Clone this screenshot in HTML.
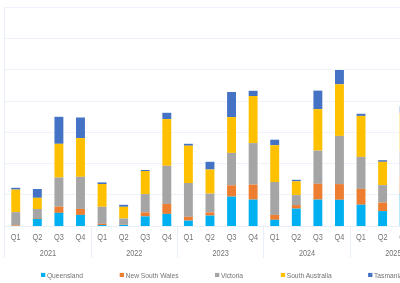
<!DOCTYPE html><html><head><meta charset="utf-8"><style>html,body{margin:0;padding:0;background:#fff;width:400px;height:283px;overflow:hidden}svg{display:block}text{font-family:"Liberation Sans",sans-serif;fill:#747474}svg{will-change:transform}</style></head><body>
<svg width="400" height="283" viewBox="0 0 400 283">
<line x1="4" y1="7.5" x2="400" y2="7.5" stroke="#EEF2FA" stroke-width="1"/>
<line x1="4" y1="38.5" x2="400" y2="38.5" stroke="#EEF2FA" stroke-width="1"/>
<line x1="4" y1="69.5" x2="400" y2="69.5" stroke="#EEF2FA" stroke-width="1"/>
<line x1="4" y1="101.5" x2="400" y2="101.5" stroke="#EEF2FA" stroke-width="1"/>
<line x1="4" y1="132.5" x2="400" y2="132.5" stroke="#EEF2FA" stroke-width="1"/>
<line x1="4" y1="163.5" x2="400" y2="163.5" stroke="#EEF2FA" stroke-width="1"/>
<line x1="4" y1="194.5" x2="400" y2="194.5" stroke="#EEF2FA" stroke-width="1"/>
<line x1="4" y1="226.5" x2="400" y2="226.5" stroke="#E9EFF9" stroke-width="1"/>
<line x1="4.5" y1="7" x2="4.5" y2="258" stroke="#E9EFF9" stroke-width="1"/>
<line x1="91.5" y1="226" x2="91.5" y2="258" stroke="#E9EFF9" stroke-width="1"/>
<line x1="177.5" y1="226" x2="177.5" y2="258" stroke="#E9EFF9" stroke-width="1"/>
<line x1="263.5" y1="226" x2="263.5" y2="258" stroke="#E9EFF9" stroke-width="1"/>
<line x1="350.5" y1="226" x2="350.5" y2="258" stroke="#E9EFF9" stroke-width="1"/>
<g>
<rect x="11.30" y="187.80" width="8.9" height="1.80" fill="#4472C4"/>
<rect x="11.30" y="189.60" width="8.9" height="22.50" fill="#FFC000"/>
<rect x="11.30" y="212.10" width="8.9" height="13.30" fill="#A5A5A5"/>
<rect x="11.30" y="225.40" width="8.9" height="0.60" fill="#ED7D31"/>
</g>
<g>
<rect x="32.88" y="189.00" width="8.9" height="8.80" fill="#4472C4"/>
<rect x="32.88" y="197.80" width="8.9" height="11.20" fill="#FFC000"/>
<rect x="32.88" y="209.00" width="8.9" height="9.00" fill="#A5A5A5"/>
<rect x="32.88" y="218.00" width="8.9" height="0.80" fill="#ED7D31"/>
<rect x="32.88" y="218.80" width="8.9" height="7.20" fill="#00B0F0"/>
</g>
<g>
<rect x="54.46" y="116.80" width="8.9" height="27.00" fill="#4472C4"/>
<rect x="54.46" y="143.80" width="8.9" height="33.70" fill="#FFC000"/>
<rect x="54.46" y="177.50" width="8.9" height="29.10" fill="#A5A5A5"/>
<rect x="54.46" y="206.60" width="8.9" height="6.30" fill="#ED7D31"/>
<rect x="54.46" y="212.90" width="8.9" height="13.10" fill="#00B0F0"/>
</g>
<g>
<rect x="76.04" y="117.50" width="8.9" height="20.60" fill="#4472C4"/>
<rect x="76.04" y="138.10" width="8.9" height="38.70" fill="#FFC000"/>
<rect x="76.04" y="176.80" width="8.9" height="32.10" fill="#A5A5A5"/>
<rect x="76.04" y="208.90" width="8.9" height="6.00" fill="#ED7D31"/>
<rect x="76.04" y="214.90" width="8.9" height="11.10" fill="#00B0F0"/>
</g>
<g>
<rect x="97.62" y="182.40" width="8.9" height="1.60" fill="#4472C4"/>
<rect x="97.62" y="184.00" width="8.9" height="22.80" fill="#FFC000"/>
<rect x="97.62" y="206.80" width="8.9" height="17.00" fill="#A5A5A5"/>
<rect x="97.62" y="223.80" width="8.9" height="1.20" fill="#ED7D31"/>
<rect x="97.62" y="225.00" width="8.9" height="1.00" fill="#00B0F0"/>
</g>
<g>
<rect x="119.20" y="204.80" width="8.9" height="2.00" fill="#4472C4"/>
<rect x="119.20" y="206.80" width="8.9" height="11.70" fill="#FFC000"/>
<rect x="119.20" y="218.50" width="8.9" height="5.80" fill="#A5A5A5"/>
<rect x="119.20" y="224.30" width="8.9" height="0.50" fill="#ED7D31"/>
<rect x="119.20" y="224.80" width="8.9" height="1.20" fill="#00B0F0"/>
</g>
<g>
<rect x="140.78" y="170.00" width="8.9" height="1.00" fill="#4472C4"/>
<rect x="140.78" y="171.00" width="8.9" height="23.10" fill="#FFC000"/>
<rect x="140.78" y="194.10" width="8.9" height="18.30" fill="#A5A5A5"/>
<rect x="140.78" y="212.40" width="8.9" height="4.00" fill="#ED7D31"/>
<rect x="140.78" y="216.40" width="8.9" height="9.60" fill="#00B0F0"/>
</g>
<g>
<rect x="162.36" y="112.80" width="8.9" height="6.30" fill="#4472C4"/>
<rect x="162.36" y="119.10" width="8.9" height="46.70" fill="#FFC000"/>
<rect x="162.36" y="165.80" width="8.9" height="38.10" fill="#A5A5A5"/>
<rect x="162.36" y="203.90" width="8.9" height="10.00" fill="#ED7D31"/>
<rect x="162.36" y="213.90" width="8.9" height="12.10" fill="#00B0F0"/>
</g>
<g>
<rect x="183.94" y="143.80" width="8.9" height="1.90" fill="#4472C4"/>
<rect x="183.94" y="145.70" width="8.9" height="37.30" fill="#FFC000"/>
<rect x="183.94" y="183.00" width="8.9" height="33.80" fill="#A5A5A5"/>
<rect x="183.94" y="216.80" width="8.9" height="3.80" fill="#ED7D31"/>
<rect x="183.94" y="220.60" width="8.9" height="5.40" fill="#00B0F0"/>
</g>
<g>
<rect x="205.52" y="161.80" width="8.9" height="7.70" fill="#4472C4"/>
<rect x="205.52" y="169.50" width="8.9" height="24.10" fill="#FFC000"/>
<rect x="205.52" y="193.60" width="8.9" height="18.80" fill="#A5A5A5"/>
<rect x="205.52" y="212.40" width="8.9" height="3.20" fill="#ED7D31"/>
<rect x="205.52" y="215.60" width="8.9" height="10.40" fill="#00B0F0"/>
</g>
<g>
<rect x="227.10" y="92.00" width="8.9" height="25.10" fill="#4472C4"/>
<rect x="227.10" y="117.10" width="8.9" height="35.80" fill="#FFC000"/>
<rect x="227.10" y="152.90" width="8.9" height="32.40" fill="#A5A5A5"/>
<rect x="227.10" y="185.30" width="8.9" height="11.30" fill="#ED7D31"/>
<rect x="227.10" y="196.60" width="8.9" height="29.40" fill="#00B0F0"/>
</g>
<g>
<rect x="248.68" y="90.80" width="8.9" height="5.20" fill="#4472C4"/>
<rect x="248.68" y="96.00" width="8.9" height="47.10" fill="#FFC000"/>
<rect x="248.68" y="143.10" width="8.9" height="41.50" fill="#A5A5A5"/>
<rect x="248.68" y="184.60" width="8.9" height="15.00" fill="#ED7D31"/>
<rect x="248.68" y="199.60" width="8.9" height="26.40" fill="#00B0F0"/>
</g>
<g>
<rect x="270.26" y="139.70" width="8.9" height="5.50" fill="#4472C4"/>
<rect x="270.26" y="145.20" width="8.9" height="36.80" fill="#FFC000"/>
<rect x="270.26" y="182.00" width="8.9" height="32.90" fill="#A5A5A5"/>
<rect x="270.26" y="214.90" width="8.9" height="4.90" fill="#ED7D31"/>
<rect x="270.26" y="219.80" width="8.9" height="6.20" fill="#00B0F0"/>
</g>
<g>
<rect x="291.84" y="179.80" width="8.9" height="1.50" fill="#4472C4"/>
<rect x="291.84" y="181.30" width="8.9" height="13.80" fill="#FFC000"/>
<rect x="291.84" y="195.10" width="8.9" height="10.00" fill="#A5A5A5"/>
<rect x="291.84" y="205.10" width="8.9" height="3.50" fill="#ED7D31"/>
<rect x="291.84" y="208.60" width="8.9" height="17.40" fill="#00B0F0"/>
</g>
<g>
<rect x="313.42" y="90.60" width="8.9" height="18.50" fill="#4472C4"/>
<rect x="313.42" y="109.10" width="8.9" height="41.50" fill="#FFC000"/>
<rect x="313.42" y="150.60" width="8.9" height="33.20" fill="#A5A5A5"/>
<rect x="313.42" y="183.80" width="8.9" height="15.80" fill="#ED7D31"/>
<rect x="313.42" y="199.60" width="8.9" height="26.40" fill="#00B0F0"/>
</g>
<g>
<rect x="335.00" y="70.00" width="8.9" height="14.30" fill="#4472C4"/>
<rect x="335.00" y="84.30" width="8.9" height="51.60" fill="#FFC000"/>
<rect x="335.00" y="135.90" width="8.9" height="48.20" fill="#A5A5A5"/>
<rect x="335.00" y="184.10" width="8.9" height="15.70" fill="#ED7D31"/>
<rect x="335.00" y="199.80" width="8.9" height="26.20" fill="#00B0F0"/>
</g>
<g>
<rect x="356.58" y="113.80" width="8.9" height="2.10" fill="#4472C4"/>
<rect x="356.58" y="115.90" width="8.9" height="41.00" fill="#FFC000"/>
<rect x="356.58" y="156.90" width="8.9" height="32.00" fill="#A5A5A5"/>
<rect x="356.58" y="188.90" width="8.9" height="15.80" fill="#ED7D31"/>
<rect x="356.58" y="204.70" width="8.9" height="21.30" fill="#00B0F0"/>
</g>
<g>
<rect x="378.16" y="160.20" width="8.9" height="1.60" fill="#4472C4"/>
<rect x="378.16" y="161.80" width="8.9" height="23.30" fill="#FFC000"/>
<rect x="378.16" y="185.10" width="8.9" height="17.50" fill="#A5A5A5"/>
<rect x="378.16" y="202.60" width="8.9" height="8.50" fill="#ED7D31"/>
<rect x="378.16" y="211.10" width="8.9" height="14.90" fill="#00B0F0"/>
</g>
<g opacity="0.28">
<rect x="399.00" y="106.20" width="8.9" height="6.70" fill="#4472C4"/>
<rect x="399.00" y="112.90" width="8.9" height="38.10" fill="#FFC000"/>
<rect x="399.00" y="151.00" width="8.9" height="26.40" fill="#A5A5A5"/>
<rect x="399.00" y="177.40" width="8.9" height="16.50" fill="#ED7D31"/>
<rect x="399.00" y="193.90" width="8.9" height="32.10" fill="#00B0F0"/>
</g>
<text transform="translate(15.75,239.8) scale(0.9,1)" font-size="8.2" text-anchor="middle">Q1</text>
<text transform="translate(37.33,239.8) scale(0.9,1)" font-size="8.2" text-anchor="middle">Q2</text>
<text transform="translate(58.91,239.8) scale(0.9,1)" font-size="8.2" text-anchor="middle">Q3</text>
<text transform="translate(80.49,239.8) scale(0.9,1)" font-size="8.2" text-anchor="middle">Q4</text>
<text transform="translate(102.07,239.8) scale(0.9,1)" font-size="8.2" text-anchor="middle">Q1</text>
<text transform="translate(123.65,239.8) scale(0.9,1)" font-size="8.2" text-anchor="middle">Q2</text>
<text transform="translate(145.23,239.8) scale(0.9,1)" font-size="8.2" text-anchor="middle">Q3</text>
<text transform="translate(166.81,239.8) scale(0.9,1)" font-size="8.2" text-anchor="middle">Q4</text>
<text transform="translate(188.39,239.8) scale(0.9,1)" font-size="8.2" text-anchor="middle">Q1</text>
<text transform="translate(209.97,239.8) scale(0.9,1)" font-size="8.2" text-anchor="middle">Q2</text>
<text transform="translate(231.55,239.8) scale(0.9,1)" font-size="8.2" text-anchor="middle">Q3</text>
<text transform="translate(253.13,239.8) scale(0.9,1)" font-size="8.2" text-anchor="middle">Q4</text>
<text transform="translate(274.71,239.8) scale(0.9,1)" font-size="8.2" text-anchor="middle">Q1</text>
<text transform="translate(296.29,239.8) scale(0.9,1)" font-size="8.2" text-anchor="middle">Q2</text>
<text transform="translate(317.87,239.8) scale(0.9,1)" font-size="8.2" text-anchor="middle">Q3</text>
<text transform="translate(339.45,239.8) scale(0.9,1)" font-size="8.2" text-anchor="middle">Q4</text>
<text transform="translate(361.03,239.8) scale(0.9,1)" font-size="8.2" text-anchor="middle">Q1</text>
<text transform="translate(382.61,239.8) scale(0.9,1)" font-size="8.2" text-anchor="middle">Q2</text>
<text transform="translate(404.19,239.8) scale(0.9,1)" font-size="8.2" text-anchor="middle">Q3</text>
<text transform="translate(47.97,256.1) scale(0.87,1)" font-size="8.4" text-anchor="middle">2021</text>
<text transform="translate(134.31,256.1) scale(0.87,1)" font-size="8.4" text-anchor="middle">2022</text>
<text transform="translate(220.65,256.1) scale(0.87,1)" font-size="8.4" text-anchor="middle">2023</text>
<text transform="translate(306.99,256.1) scale(0.87,1)" font-size="8.4" text-anchor="middle">2024</text>
<text transform="translate(393.33,256.1) scale(0.87,1)" font-size="8.4" text-anchor="middle">2025</text>
<rect x="41" y="272.9" width="4.3" height="4.1" fill="#00B0F0"/>
<text x="46.90" y="277.6" font-size="6.7">Queensland</text>
<rect x="119.7" y="272.9" width="4.3" height="4.1" fill="#ED7D31"/>
<text x="125.60" y="277.6" font-size="6.7">New South Wales</text>
<rect x="215" y="272.9" width="4.3" height="4.1" fill="#A5A5A5"/>
<text x="220.90" y="277.6" font-size="6.7">Victoria</text>
<rect x="280.8" y="272.9" width="4.3" height="4.1" fill="#FFC000"/>
<text x="286.70" y="277.6" font-size="6.7">South Australia</text>
<rect x="368.1" y="272.9" width="4.3" height="4.1" fill="#4472C4"/>
<text x="374.00" y="277.6" font-size="6.7">Tasmania</text>
</svg></body></html>
